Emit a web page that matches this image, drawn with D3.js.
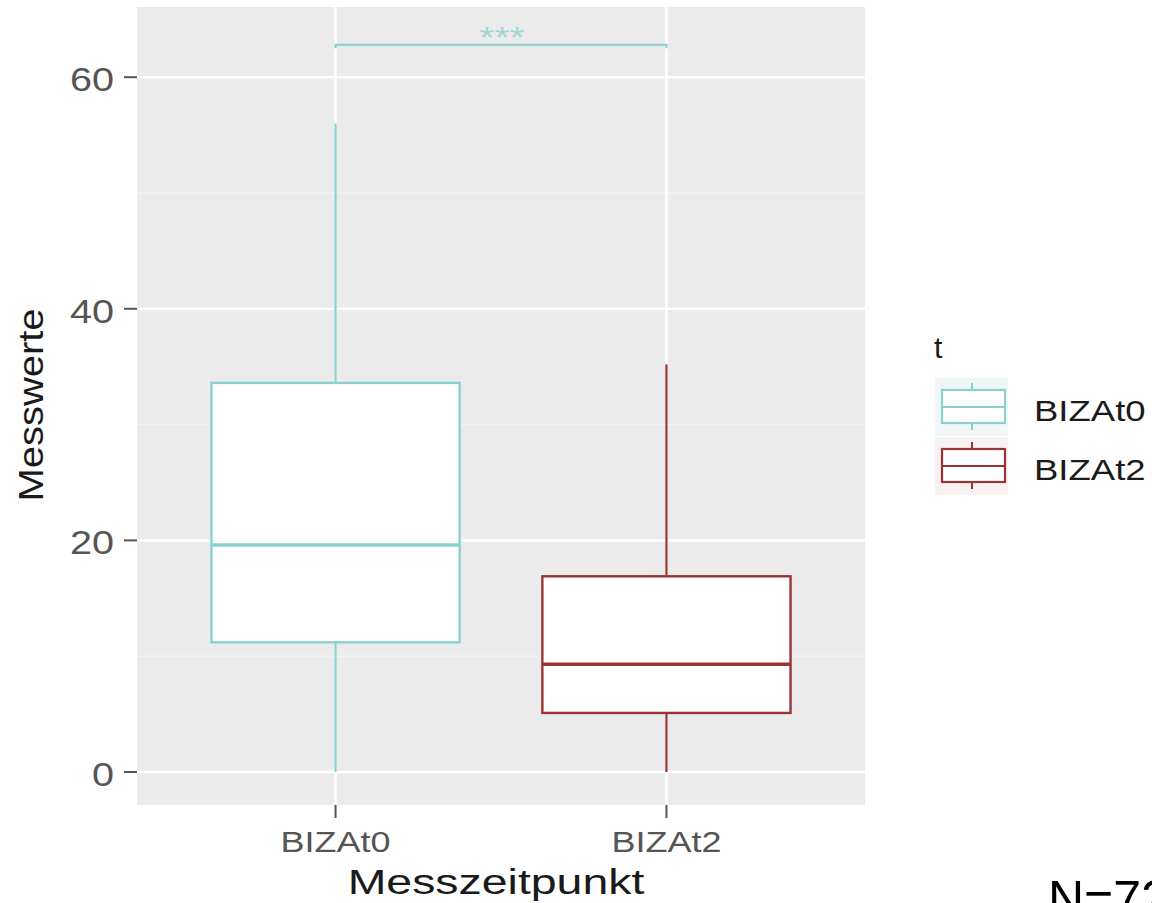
<!DOCTYPE html>
<html>
<head>
<meta charset="utf-8">
<script src="https://cdn.jsdelivr.net/npm/d3@7"></script>
<style>
  html, body { margin: 0; padding: 0; background: #fff; }
  svg { display: block; font-family: "Liberation Sans", Arial, sans-serif; }
</style>
</head>
<body>
<svg id="chart" width="1152" height="903"></svg>
<script>
// Box summaries per measurement time
const groups = ["BIZAt0", "BIZAt2"];
const whiskerLow = [0, 0];
const q1 = [11.2, 5.1];
const median = [19.6, 9.3];
const q3 = [33.6, 16.9];
const whiskerHigh = [56.0, 35.2];
const colors = ["#88d1ce", "#9b3434"];
const yTicks = [0, 20, 40, 60];
const yMinor = [10, 30, 50];
const signifLevel = 62.8;
const signifLabel = "***";

const svg = d3.select("#chart");
const panel = { left: 137, right: 865, top: 7, bottom: 805 };

const y = d3.scaleLinear().domain([-2.85, 66.06]).range([panel.bottom, panel.top]);
// discrete positions 1..n on an axis expanded by 0.6 on each side
const x = d3.scaleLinear().domain([0.4, groups.length + 0.6]).range([panel.left, panel.right]);
const cx = g => x(groups.indexOf(g) + 1);
const boxW = x(1.75) - x(1);

// text helper: horizontally widened glyphs, as in the exported figure
function label(parent, { x, y, size, anchor = "start", stretch = 1, rotate = 0, fill = "#1a1a1a", text }) {
  const g = parent.append("g").attr("transform", `translate(${x},${y}) rotate(${rotate}) scale(${stretch},1)`);
  g.append("text").attr("text-anchor", anchor).attr("font-size", size).attr("fill", fill).text(text);
  return g;
}

// panel background
svg.append("rect").attr("x", panel.left).attr("y", panel.top)
  .attr("width", panel.right - panel.left).attr("height", panel.bottom - panel.top)
  .attr("fill", "#ebebeb");

// grid
svg.append("g").selectAll("line").data(yMinor).join("line")
  .attr("x1", panel.left).attr("x2", panel.right)
  .attr("y1", d => y(d)).attr("y2", d => y(d))
  .attr("stroke", "#f4f4f4").attr("stroke-width", 1.3);
svg.append("g").selectAll("line").data(yTicks).join("line")
  .attr("x1", panel.left).attr("x2", panel.right)
  .attr("y1", d => y(d)).attr("y2", d => y(d))
  .attr("stroke", "#ffffff").attr("stroke-width", 2.6);
svg.append("g").selectAll("line").data(groups).join("line")
  .attr("x1", d => cx(d)).attr("x2", d => cx(d))
  .attr("y1", panel.top).attr("y2", panel.bottom)
  .attr("stroke", "#ffffff").attr("stroke-width", 2.6);

// y axis ticks and labels
const yAxis = svg.append("g");
yAxis.selectAll("line").data(yTicks).join("line")
  .attr("x1", panel.left - 13).attr("x2", panel.left)
  .attr("y1", d => y(d)).attr("y2", d => y(d))
  .attr("stroke", "#555").attr("stroke-width", 2);
yTicks.forEach(v => label(yAxis, { x: 114, y: y(v) + 14, size: 33, anchor: "end", stretch: 1.2, fill: "#555", text: v }));

// x axis ticks and labels
const xAxis = svg.append("g");
xAxis.selectAll("line").data(groups).join("line")
  .attr("x1", d => cx(d)).attr("x2", d => cx(d))
  .attr("y1", panel.bottom).attr("y2", panel.bottom + 13)
  .attr("stroke", "#555").attr("stroke-width", 2);
groups.forEach(g => label(xAxis, { x: cx(g), y: 852, size: 30, anchor: "middle", stretch: 1.2, fill: "#555", text: g }));

// axis titles
label(svg, { x: 496, y: 894, size: 36, anchor: "middle", stretch: 1.29, text: "Messzeitpunkt" });
label(svg, { x: 43, y: 405, size: 36, anchor: "middle", stretch: 1.11, rotate: -90, text: "Messwerte" });

// boxplots
const boxes = svg.append("g").selectAll("g").data(groups).join("g");
boxes.append("line")
  .attr("x1", d => cx(d)).attr("x2", d => cx(d))
  .attr("y1", (d, i) => y(q3[i])).attr("y2", (d, i) => y(whiskerHigh[i]))
  .attr("stroke", (d, i) => colors[i]).attr("stroke-width", 2.2);
boxes.append("line")
  .attr("x1", d => cx(d)).attr("x2", d => cx(d))
  .attr("y1", (d, i) => y(q1[i])).attr("y2", (d, i) => y(whiskerLow[i]))
  .attr("stroke", (d, i) => colors[i]).attr("stroke-width", 2.2);
boxes.append("rect")
  .attr("x", d => cx(d) - boxW / 2).attr("width", boxW)
  .attr("y", (d, i) => y(q3[i])).attr("height", (d, i) => y(q1[i]) - y(q3[i]))
  .attr("fill", "#ffffff").attr("stroke", (d, i) => colors[i]).attr("stroke-width", 2.4);
boxes.append("line")
  .attr("x1", d => cx(d) - boxW / 2).attr("x2", d => cx(d) + boxW / 2)
  .attr("y1", (d, i) => y(median[i])).attr("y2", (d, i) => y(median[i]))
  .attr("stroke", (d, i) => colors[i]).attr("stroke-width", 3.6);

// significance bracket
const sig = svg.append("g");
sig.append("path")
  .attr("d", `M${cx(groups[0])},${y(signifLevel - 0.3)}V${y(signifLevel)}H${cx(groups[1])}V${y(signifLevel - 0.3)}`)
  .attr("fill", "none").attr("stroke", colors[0]).attr("stroke-width", 2.2);
label(sig, { x: 502, y: y(signifLevel) + 2, size: 30, anchor: "middle", stretch: 1.3, fill: "#9fd9d6", text: signifLabel });

// legend
const legend = svg.append("g");
label(legend, { x: 934, y: 358, size: 30, text: "t" });
const keyTop = [378, 437];
groups.forEach((g, i) => {
  const k = legend.append("g").attr("transform", `translate(935,${keyTop[i]})`);
  k.append("rect").attr("width", 73).attr("height", 58).attr("fill", i === 0 ? "#f1f6f6" : "#f8f1f1");
  k.append("line").attr("x1", 37).attr("x2", 37).attr("y1", 5).attr("y2", 52)
    .attr("stroke", colors[i]).attr("stroke-width", 2);
  k.append("rect").attr("x", 7).attr("y", 12).attr("width", 63).attr("height", 33)
    .attr("fill", "#ffffff").attr("stroke", colors[i]).attr("stroke-width", 2.2);
  k.append("line").attr("x1", 7).attr("x2", 70).attr("y1", 29).attr("y2", 29)
    .attr("stroke", colors[i]).attr("stroke-width", 2.2);
  label(legend, { x: 1034, y: keyTop[i] + 43, size: 29, stretch: 1.26, text: g });
});

// sample size note, running off the lower right corner
label(svg, { x: 1048, y: 916, size: 50, fill: "#000", text: "N=72" });
</script>
</body>
</html>
